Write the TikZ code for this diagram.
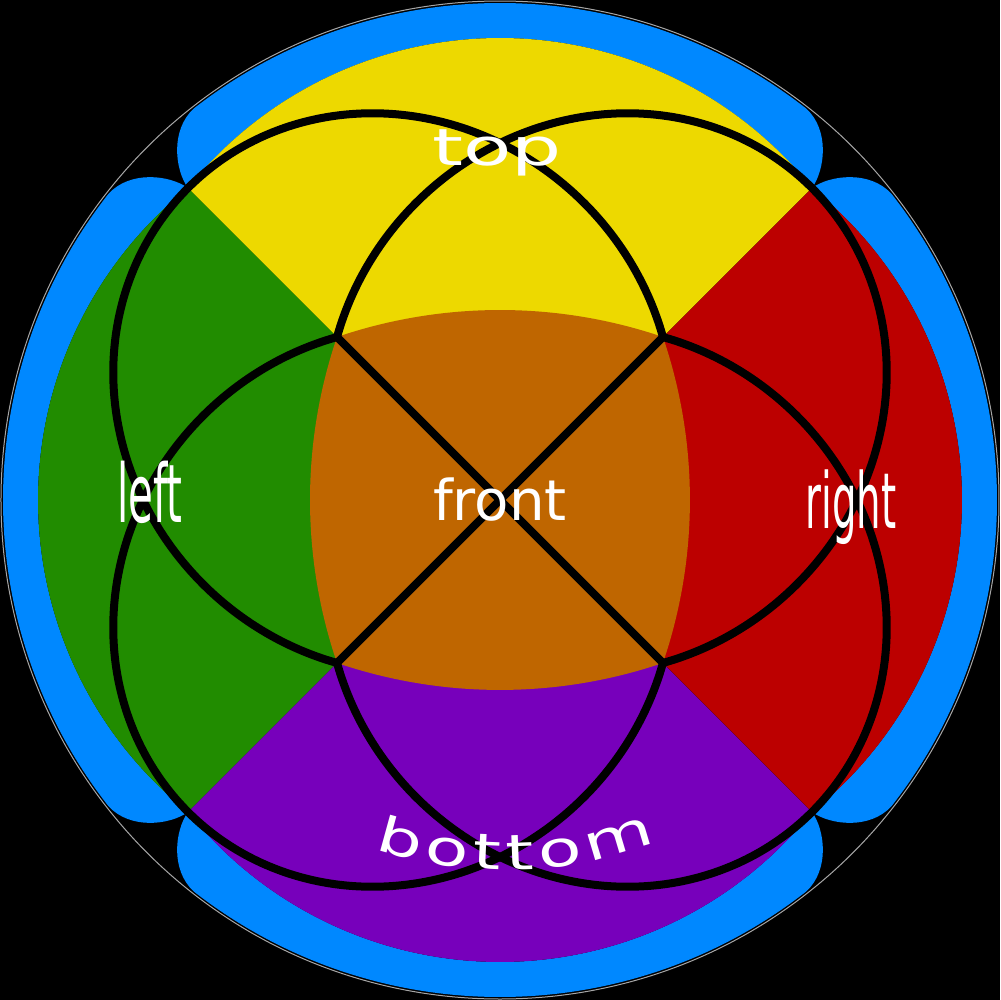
\documentclass[tikz,border=0pt]{standalone}
\usepackage{fontspec}
\usetikzlibrary{decorations.text}
\newfontfamily\labelfont{DejaVu Sans}
\newfontfamily\topfont[FakeStretch=1.55]{DejaVu Sans}
\newfontfamily\bottomfont[FakeStretch=1.45]{DejaVu Sans}
\newfontfamily\sidefont[FakeStretch=0.5]{DejaVu Sans}
\definecolor{ringblue}{HTML}{0088FF}
\definecolor{faceyellow}{HTML}{EDD900}
\definecolor{facegreen}{HTML}{218C00}
\definecolor{facered}{HTML}{BC0000}
\definecolor{facepurple}{HTML}{7700BB}
\definecolor{faceorange}{HTML}{BF6600}
\begin{document}
\begin{tikzpicture}[
        x=0.1mm, y=-0.1mm,
        ring/.style={
            fill=ringblue
        },
        seam/.style={
            black,
            line width=0.8mm,
            line join=round
        },
        facelabel/.style={
            text=white,
            anchor=base,
            inner sep=0pt
        }
    ]
        % Sfondo nero e bordo sottile
        \useasboundingbox (-500,-500) rectangle (500,500);
        \fill[black] (-500,-500) rectangle (500,500);
        \draw[gray!70, line width=0.1mm] (0,0) circle[radius=499];

        % Anello blu in quattro pezzi
        \foreach \r in {0,90,180,270} {
            \fill[ring, rotate=\r] (-312,-312)
                arc[start angle=-141.35, end angle=-38.65, radius=399.5]
                .. controls (325,-330) and (330,-370) .. (-52:497)
                arc[start angle=-52, end angle=-128, radius=497]
                .. controls (-330,-370) and (-325,-330) .. cycle;
        }

        % Facce esterne
        \foreach \r/\col in {0/faceyellow, 90/facegreen, 180/facepurple, 270/facered} {
            \fill[\col, rotate=\r] (0,0) -- (-312,-312)
                arc[start angle=-141.35, end angle=-38.65, radius=399.5] -- cycle;
        }

        % Faccia centrale
        \fill[faceorange] (-163,-163)
            arc[start angle=-108.81, end angle=-71.19, radius=505.5]
            arc[start angle=-18.81, end angle=18.81, radius=505.5]
            arc[start angle=71.19, end angle=108.81, radius=505.5]
            arc[start angle=161.19, end angle=198.81, radius=505.5] -- cycle;

        \coordinate (inTL) at (-163,-163);
        \coordinate (inTR) at (163,-163);
        \coordinate (inBL) at (-163,163);
        \coordinate (inBR) at (163,163);

        % Archi neri (uno per quadrante, specchiati)
        \foreach \sx/\sy in {1/1, -1/1, 1/-1, -1/-1} {
            \draw[seam] plot[variable=\t, domain=-121.2:121.2, samples=120, smooth]
                ({\sx*(106.5+0.7071*(290.6*cos(\t)+269.5*sin(\t)))},
                 {\sy*(-106.5+0.7071*(269.5*sin(\t)-290.6*cos(\t)))});
        }
        \draw[seam] (inTL) -- (inBR) (inTR) -- (inBL);

        % Etichette
        \node[facelabel, font={\labelfont\fontsize{16}{16}\selectfont}] (front) at (0,20) {front};
        \node[facelabel, font={\topfont\fontsize{14.5}{14.5}\selectfont}] (top) at (-3,-335) {top};
        \node[facelabel, font={\sidefont\fontsize{23}{23}\selectfont}] (left) at (-350,22) {left};
        \node[facelabel, font={\sidefont\fontsize{22}{22}\selectfont}] (right) at (351,28) {right};
        \path[decorate, decoration={text along path,
                text={|\bottomfont\fontsize{14}{14}\selectfont|bottom},
                text color=white, text align={fit to path}}]
            (5,-41) ++(108.5:411) arc[start angle=108.5, end angle=68.5, radius=411];
\end{tikzpicture}
\end{document}
